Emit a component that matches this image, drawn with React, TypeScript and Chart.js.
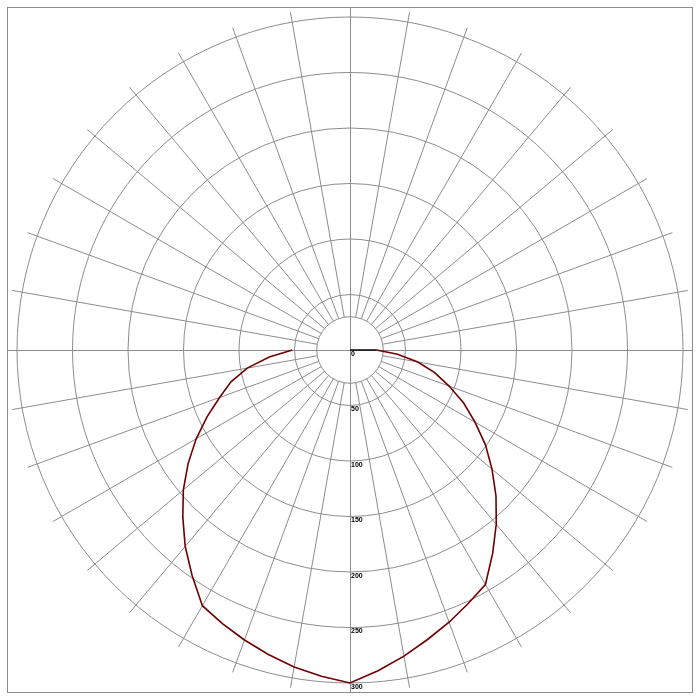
import { useEffect, useRef } from "react"
import { Chart, registerables, type Plugin } from "chart.js"

Chart.register(...registerables)

// Angle from nadir (deg), one value per 5 degrees
const gammaAngles = [0, 5, 10, 15, 20, 25, 30, 35, 40, 45, 50, 55, 60, 65, 70, 75, 80, 85, 90]
// C180 half-plane (drawn on the left)
const c180Values = [300, 295, 290, 284, 278, 272, 266, 248, 231, 213, 196, 178, 160, 142, 125, 111, 94, 73, 52]
// C0 half-plane (drawn on the right)
const c0Values = [300, 290, 280, 270, 261, 252, 244, 224, 205, 186, 167, 149, 130, 113, 95, 79, 62, 43, 24]
// radial tick labels
const radialTicks = [0, 50, 100, 150, 200, 250, 300]

const STEP = 5
const N = 360 / STEP

const GRID = "#8c8c8c"
const CURVE = "#6e0000"

const gridPlugin: Plugin<"radar"> = {
  id: "photometricGrid",
  beforeDatasetsDraw(chart) {
    const scale: any = chart.scales.r
    const ctx = chart.ctx
    const cx = scale.xCenter
    const cy = scale.yCenter
    const inner = scale.getDistanceFromCenterForValue(30)
    const outer = scale.drawingArea + 10

    ctx.save()
    ctx.strokeStyle = GRID
    ctx.lineWidth = 1

    // spokes every 10 degrees, starting at the inner circle
    for (let deg = 10; deg < 360; deg += 10) {
      if (deg % 90 === 0) continue
      const a = scale.getPointPosition(deg / STEP, inner)
      const b = scale.getPointPosition(deg / STEP, outer)
      ctx.beginPath()
      ctx.moveTo(a.x, a.y)
      ctx.lineTo(b.x, b.y)
      ctx.stroke()
    }

    // inner circle
    ctx.beginPath()
    ctx.arc(cx, cy, inner, 0, Math.PI * 2)
    ctx.stroke()

    // frame and main axes
    const lo = 7.5
    const hi = 692.5
    ctx.strokeRect(lo, lo, hi - lo, hi - lo)
    ctx.beginPath()
    ctx.moveTo(Math.round(cx) + 0.5, lo)
    ctx.lineTo(Math.round(cx) + 0.5, hi)
    ctx.moveTo(lo, Math.round(cy) + 0.5)
    ctx.lineTo(hi, Math.round(cy) + 0.5)
    ctx.stroke()

    // value labels down the nadir axis
    ctx.fillStyle = "#000"
    ctx.font = "bold 7px 'Liberation Sans', Arial, sans-serif"
    ctx.textAlign = "left"
    ctx.textBaseline = "middle"
    radialTicks.forEach((v) => {
      const d = scale.getDistanceFromCenterForValue(v)
      ctx.fillText(String(v), cx + 1, cy + d + 4)
    })
    ctx.restore()
  },
}

export default function App() {
  const chartRef = useRef<HTMLCanvasElement>(null)
  const chartInstance = useRef<Chart | null>(null)

  useEffect(() => {
    if (!chartRef.current) return
    const ctx = chartRef.current.getContext("2d")
    if (!ctx) return

    if (chartInstance.current) {
      chartInstance.current.destroy()
    }

    const labels = Array.from({ length: N }, (_, i) => `${i * STEP}°`)
    const curve: (number | null)[] = new Array(N).fill(null)
    const centreLine: (number | null)[] = new Array(N).fill(null)
    gammaAngles.forEach((g, i) => {
      // clockwise from nadir -> left side
      curve[g / STEP] = c180Values[i]
      if (g > 0) curve[(360 - g) / STEP] = c0Values[i]
    })
    const endIdx = (360 - 90) / STEP
    centreLine[endIdx - 1] = 0
    centreLine[endIdx] = c0Values[c0Values.length - 1]

    chartInstance.current = new Chart(ctx, {
      type: "radar",
      data: {
        labels,
        datasets: [
          {
            data: curve,
            borderColor: CURVE,
            borderWidth: 1.6,
            pointRadius: 0,
            fill: false,
            tension: 0,
            clip: false,
          },
          {
            data: centreLine,
            borderColor: "#000",
            borderWidth: 1.5,
            pointRadius: 0,
            fill: false,
            clip: false,
          },
        ],
      },
      options: {
        responsive: false,
        animation: false,
        layout: { padding: 17 },
        plugins: {
          legend: { display: false },
          tooltip: { enabled: false },
        },
        scales: {
          r: {
            min: 0,
            max: 300,
            startAngle: 180,
            ticks: { display: false, stepSize: 50 },
            pointLabels: { display: false },
            angleLines: { display: false },
            grid: { circular: true, color: GRID, lineWidth: 1 },
          },
        },
      },
      plugins: [gridPlugin],
    })

    return () => {
      if (chartInstance.current) {
        chartInstance.current.destroy()
        chartInstance.current = null
      }
    }
  }, [])

  return (
    <div style={{ position: "absolute", left: 0, top: 0, width: 700, height: 700, background: "#fff" }}>
      <canvas ref={chartRef} width={700} height={700} style={{ display: "block" }}></canvas>
    </div>
  )
}
